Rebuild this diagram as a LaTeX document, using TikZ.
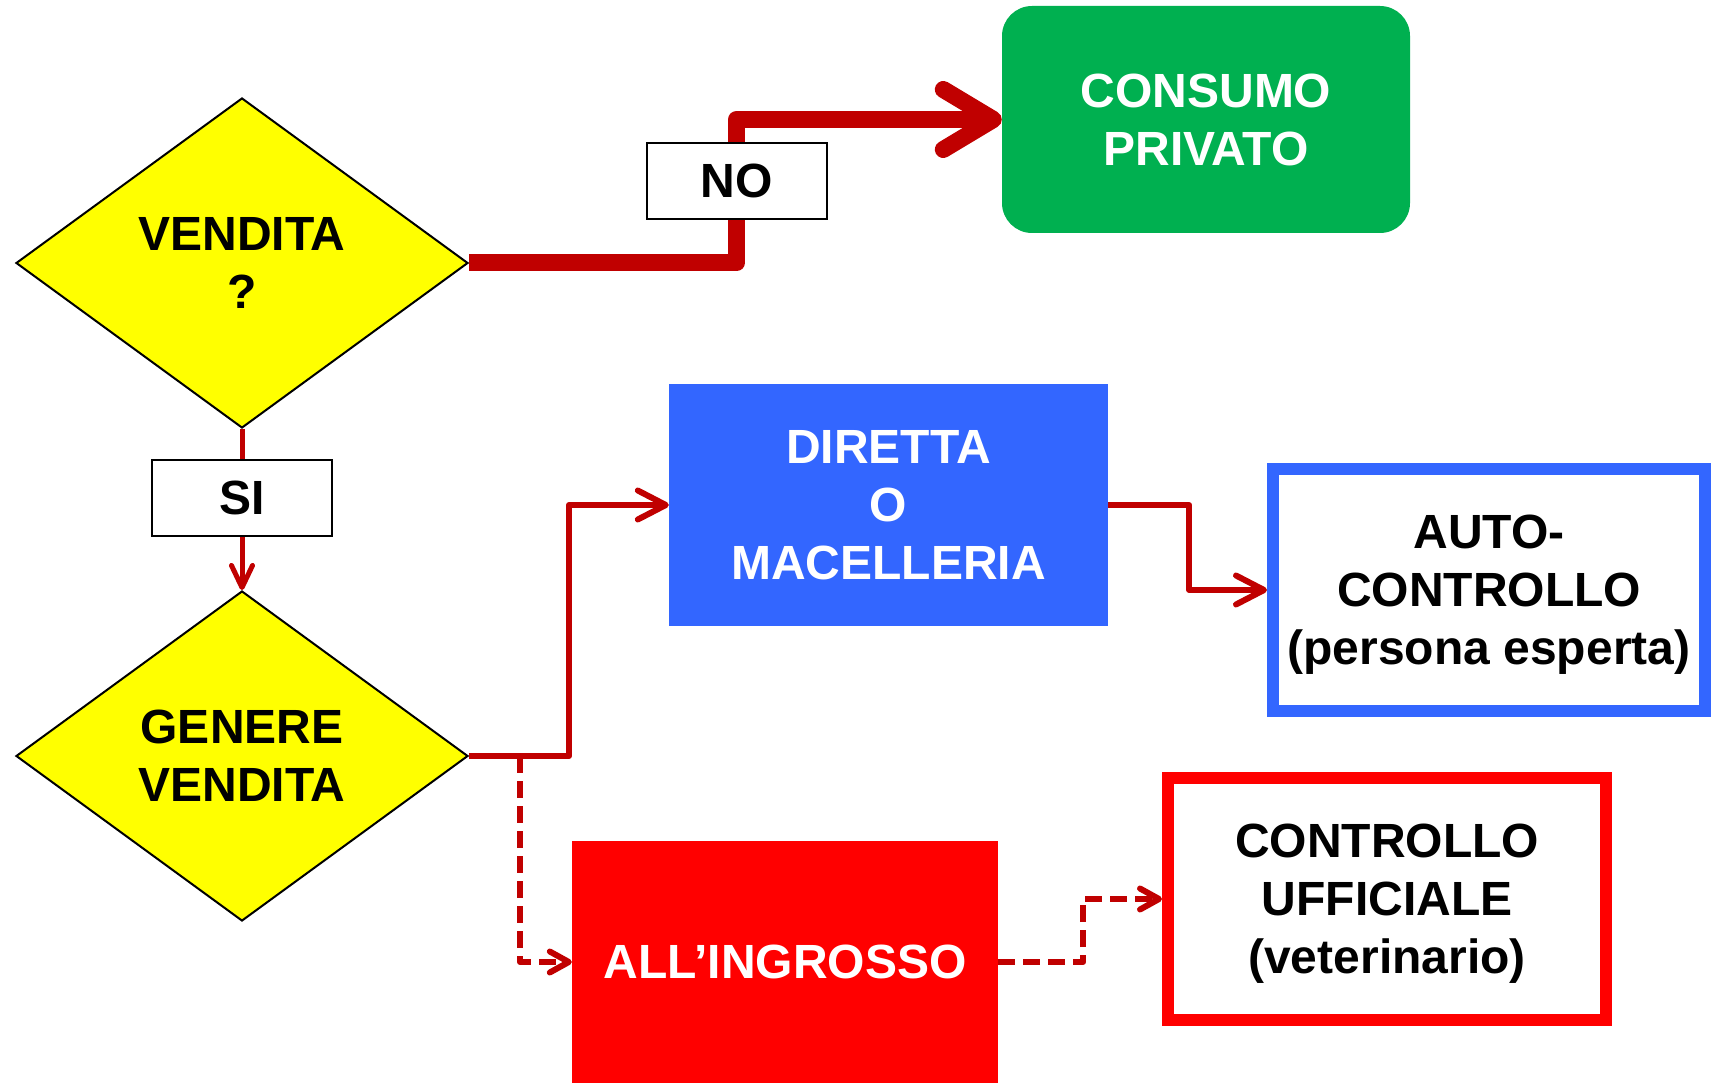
\documentclass[tikz,border=0pt]{standalone}
\usepackage{fontspec}
\setmainfont{Liberation Sans}
\usetikzlibrary{shapes.geometric,arrows.meta,backgrounds}
\definecolor{giallo}{HTML}{FFFF00}
\definecolor{verde}{HTML}{00B050}
\definecolor{blu}{HTML}{3366FF}
\definecolor{rosso}{HTML}{FF0000}
\definecolor{freccia}{HTML}{C00000}
\tikzset{
  rombo/.style={diamond, draw, line width=2pt, fill=giallo, inner sep=0pt,
    minimum width=452pt, minimum height=330pt, align=center},
  piena/.style={inner sep=0pt, text=white, align=center},
  bordo/.style={draw, line width=12pt, fill=white, inner sep=0pt, align=center,
    text depth=0pt},
  etichetta/.style={draw, line width=2pt, fill=white, inner sep=0pt,
    minimum width=180pt, minimum height=76pt},
  grossa/.style={draw=freccia, line width=17pt, line join=round,
    -{Straight Barb[length=50pt, width=60pt, round]}},
  media/.style={draw=freccia, line width=6pt, line join=round,
    -{Straight Barb[length=28pt, width=29pt, round]}},
  sottile/.style={draw=freccia, line width=5pt,
    -{Straight Barb[length=22pt, width=21pt, round]}},
  tratteggio/.style={draw=freccia, line width=6pt, line join=round,
    dash pattern=on 17pt off 8pt,
    -{Straight Barb[length=19pt, width=21pt, round]}}
}
\begin{document}
\begin{tikzpicture}[x=1pt, y=-1pt,
    every node/.style={font=\bfseries\fontsize{48}{58}\selectfont}]
  \useasboundingbox (0,0) rectangle (1711,1083);
  % decisioni
  \node[rombo] (vendita) at (242,263) {VENDITA\\?};
  \node[rombo] (genere) at (242,756) {GENERE\\VENDITA};
  % esiti
  \node[piena, fill=verde, rounded corners=30pt, minimum width=408pt,
    minimum height=227pt] (consumo) at (1206,119.5) {CONSUMO\\PRIVATO};
  \node[piena, fill=blu, minimum width=439pt, minimum height=242pt]
    (diretta) at (888.5,505) {DIRETTA\\O\\MACELLERIA};
  \node[piena, fill=rosso, minimum width=426pt, minimum height=242pt]
    (ingrosso) at (785,962) {ALL’INGROSSO};
  \node[bordo, draw=blu, minimum width=432pt, minimum height=242pt]
    (auto) at (1489,590) {AUTO-\\CONTROLLO\\(persona esperta)};
  \node[bordo, draw=rosso, minimum width=438pt, minimum height=242pt]
    (ufficiale) at (1387,899) {CONTROLLO\\UFFICIALE\\(veterinario)};
  % etichette
  \node[etichetta] (no) at (736.5,181) {NO};
  \node[etichetta] (si) at (242,498) {SI};
  \begin{scope}[on background layer]
    \draw[grossa] (vendita.east) -| (no.center) |- (consumo.west);
    \draw[sottile] (vendita.south) -- (genere.north);
    \draw[media] (genere.east) -- ++(100,0) |- (diretta.west);
    \draw[tratteggio] (genere.east) ++(51,0) |- (ingrosso.west);
    \draw[media] (diretta.east) -- ++(81,0) |- (auto.west);
    \draw[tratteggio] (ingrosso.east) -- ++(85,0) |- (ufficiale.west);
  \end{scope}
\end{tikzpicture}
\end{document}
